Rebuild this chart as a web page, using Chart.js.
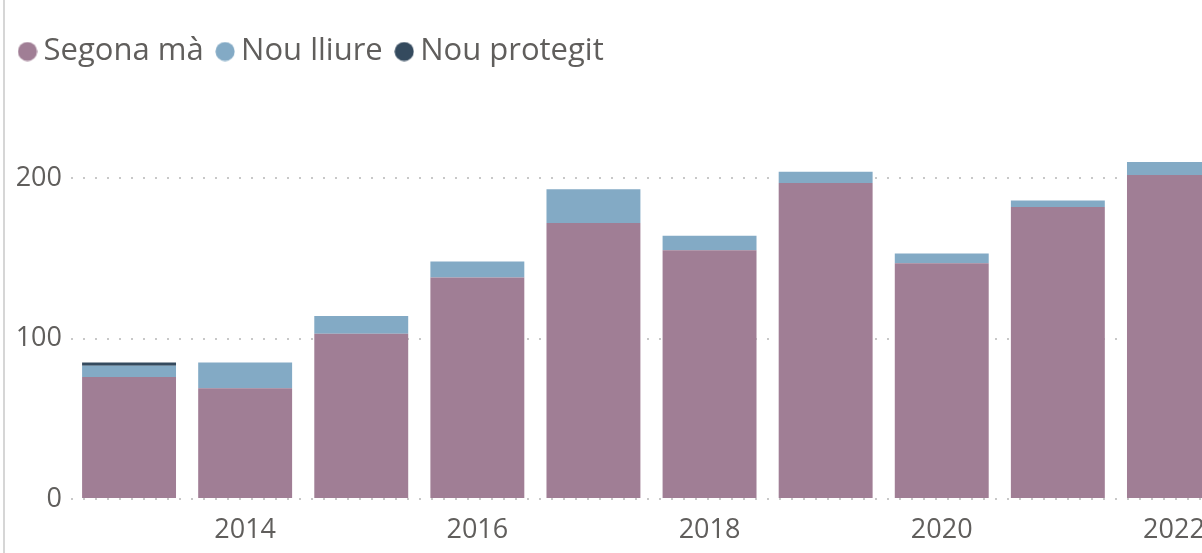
<!DOCTYPE html>
<html>
<head>
<meta charset="utf-8">
<script src="https://cdn.jsdelivr.net/npm/chart.js@4/dist/chart.umd.min.js"></script>
<style>
  html, body { margin: 0; padding: 0; background: #fff; overflow: hidden; }
  #frame { position: relative; width: 1202px; height: 553px; overflow: hidden; }
  #edge { position: absolute; left: 3px; top: 0; width: 2px; height: 553px; background: #d6d6d6; }
  #wrap { position: absolute; left: 0; top: 0; width: 1232px; height: 553px; }
</style>
</head>
<body>
<div id="frame">
  <div id="edge"></div>
  <div id="wrap"><canvas id="chart"></canvas></div>
</div>
<script>
// Years on the category axis
const years = ['2013', '2014', '2015', '2016', '2017', '2018', '2019', '2020', '2021', '2022'];

// Values per type (stacked)
const segonaMa    = [76, 69, 103, 138, 172, 155, 197, 147, 182, 202];
const nouLliure   = [7, 16, 11, 10, 21, 9, 7, 6, 4, 8];
const nouProtegit = [2, null, null, null, null, null, null, null, null, null];

// Value-axis gridlines / labels
const yTicks = [0, 100, 200];

const COLORS = ['#a07e95', '#83aac5', '#344a5e'];
const FONT = '"Open Sans", "Noto Sans", sans-serif';
const GREY = '#605e5c';

// Round legend marker drawn as a small canvas
function dot(color) {
  const c = document.createElement('canvas');
  c.width = 20; c.height = 20;
  const g = c.getContext('2d');
  g.fillStyle = color;
  g.beginPath();
  g.arc(10, 10, 9.6, 0, Math.PI * 2);
  g.fill();
  return c;
}
const dots = COLORS.map(dot);

new Chart(document.getElementById('chart'), {
  type: 'bar',
  data: {
    labels: years,
    datasets: [
      { label: 'Segona mà', data: segonaMa, backgroundColor: COLORS[0] },
      { label: 'Nou lliure', data: nouLliure, backgroundColor: COLORS[1] },
      { label: 'Nou protegit', data: nouProtegit, backgroundColor: COLORS[2] }
    ]
  },
  options: {
    responsive: true,
    maintainAspectRatio: false,
    animation: false,
    layout: { padding: { top: 15, left: 6, right: 0, bottom: 0 } },
    datasets: {
      bar: { categoryPercentage: 1, barPercentage: 0.809, borderWidth: 0 }
    },
    plugins: {
      tooltip: { enabled: false },
      legend: {
        position: 'top',
        align: 'start',
        labels: {
          usePointStyle: true,
          boxWidth: 1,
          boxHeight: 12,
          padding: 21,
          color: GREY,
          font: { family: FONT, size: 31 },
          generateLabels: function (chart) {
            const items = Chart.defaults.plugins.legend.labels.generateLabels(chart);
            items.forEach(function (it, i) { it.pointStyle = dots[i]; });
            return items;
          }
        }
      }
    },
    scales: {
      x: {
        stacked: true,
        grid: { display: false },
        border: { display: false },
        ticks: {
          autoSkip: false,
          maxRotation: 0,
          padding: 7,
          color: GREY,
          font: { family: FONT, size: 27 },
          callback: function (v, i) { return i % 2 === 1 ? years[i] : ''; }
        },
        afterFit: function (s) { s.height = 54; }
      },
      y: {
        stacked: true,
        min: 0,
        max: 263,
        afterBuildTicks: function (s) { s.ticks = yTicks.map(v => ({ value: v })); },
        grid: {
          color: '#c8c8c8',
          lineWidth: 2,
          drawTicks: false
        },
        border: { display: false, dash: [2, 10] },
        ticks: {
          padding: 9,
          color: GREY,
          font: { family: FONT, size: 27 }
        },
        afterFit: function (s) { s.width = 65; }
      }
    }
  }
});
</script>
</body>
</html>
